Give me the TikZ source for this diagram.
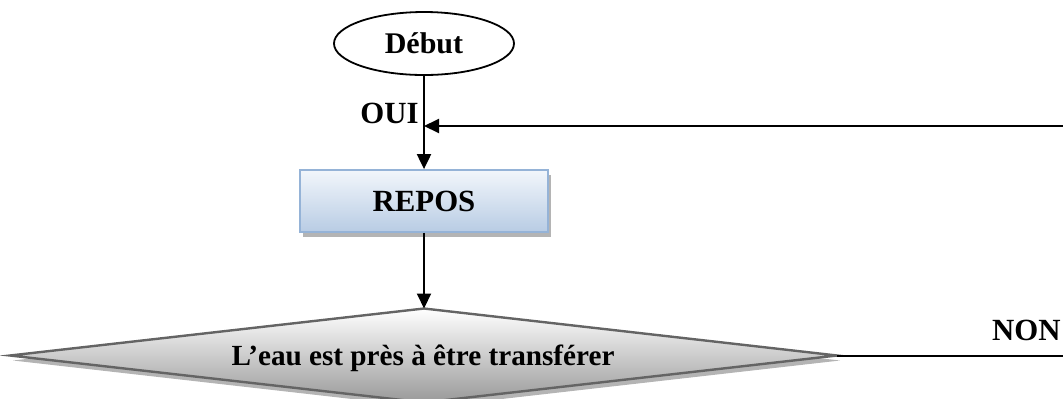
\documentclass[tikz,border=0pt]{standalone}
\usepackage{fontspec}
\setmainfont{Liberation Serif}
\usetikzlibrary{arrows.meta,shapes.geometric}
\definecolor{boxtop}{HTML}{F2F6FB}
\definecolor{boxbot}{HTML}{B8CCE4}
\definecolor{boxline}{HTML}{95B3D7}
\definecolor{shadowgray}{HTML}{B4B4B4}
\definecolor{diamline}{HTML}{646464}
\begin{document}
\begin{tikzpicture}[x=0.5pt,y=-0.5pt,
  font=\fontsize{15.4}{18}\selectfont\bfseries,
  wire/.style={line width=1pt},
  flow/.style={wire,-{Triangle[length=7.5pt,width=7pt]}},
  startnode/.style={ellipse,draw,line width=0.9pt,minimum width=90pt,minimum height=31.5pt,inner sep=0pt,font=\fontsize{15}{18}\selectfont\bfseries},
  stepbox/.style={draw=boxline,line width=0.9pt,top color=boxtop,bottom color=boxbot,minimum width=124pt,minimum height=31pt,inner sep=0pt},
  lbl/.style={inner sep=0pt}]
\clip (0,0) rectangle (1063,398);

% start
\node[startnode] (debut) at (424,43.5) {Début};

% process box with its drop shadow
\fill[shadowgray] (303,175) rectangle (551,237);
\node[stepbox] (repos) at (424,201) {REPOS};

% decision diamond
\coordinate (dleft)  at (10,355.5);
\coordinate (dtop)   at (424,308.5);
\coordinate (dright) at (837,355.5);
\coordinate (dbot)   at (424,402.5);
\fill[shadowgray] ([shift={(3,5)}]dleft) -- ([shift={(3,5)}]dtop) -- ([shift={(3,5)}]dright) -- ([shift={(3,5)}]dbot) -- cycle;
\shade[top color=white,bottom color=black!40] (dleft) -- (dtop) -- (dright) -- (dbot) -- cycle;
\draw[diamline,line width=1.2pt,line join=miter] (dleft) -- (dtop) -- (dright) -- (dbot) -- cycle;
\node[lbl,anchor=base,font=\fontsize{14.6}{17}\selectfont\bfseries] (test) at (423,365) {L’eau est près à être transférer};

% connectors
\coordinate (join) at (424,126);
\coordinate (far1) at (1100,355.5);
\coordinate (far2) at (1100,126);
\draw[flow] (debut.south) -- (repos.north);
\draw[flow] (repos.south) -- (dtop);
\draw[flow] (dright) -- (far1) -- (far2) -- (join);

% branch labels
\node[lbl,anchor=base east] (oui) at (419,123) {OUI};
\node[lbl,anchor=base east] (non) at (1061,340) {NON};
\end{tikzpicture}
\end{document}
